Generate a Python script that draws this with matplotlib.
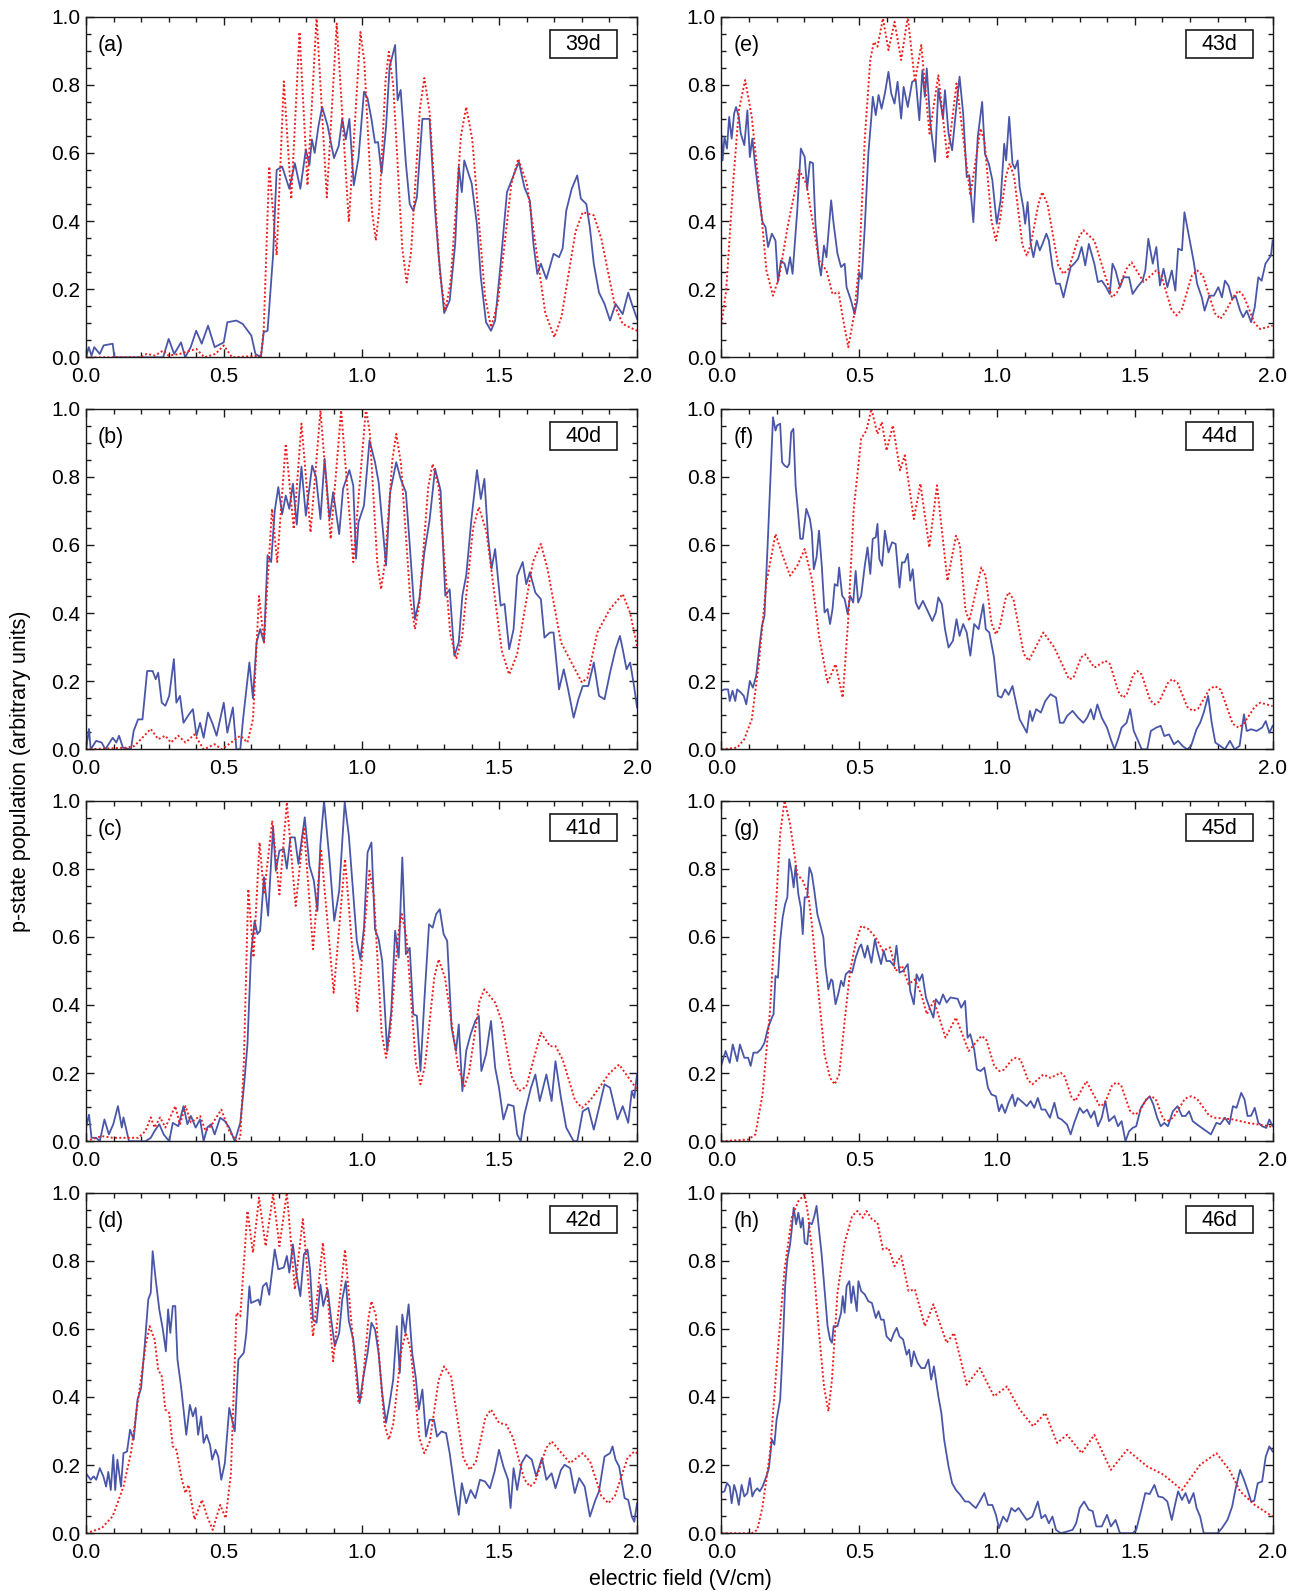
import matplotlib
matplotlib.use("Agg")
import matplotlib.pyplot as plt
from matplotlib.patches import Rectangle
from matplotlib.ticker import MultipleLocator, FormatStrFormatter
import numpy as np


COLORS = {
    "blue": "#4a57a8",
    "red": "#f01c1c",
    "ink": "#1a1a1a",
}

A_BLUE = [(0.0, 0.0), (0.01, 0.03), (0.02, 0.005), (0.03, 0.03), (0.05, 0.01), (0.064, 0.035), (0.097, 0.04), (0.103, 0.0),
          (0.28, 0.0), (0.30, 0.054), (0.32, 0.01), (0.345, 0.044), (0.36, 0.0), (0.38, 0.03), (0.40, 0.078), (0.42, 0.04),
          (0.443, 0.093), (0.467, 0.03), (0.50, 0.044), (0.513, 0.103), (0.546, 0.108), (0.569, 0.098), (0.60, 0.064),
          (0.615, 0.01), (0.635, 0.0), (0.645, 0.074), (0.659, 0.078), (0.679, 0.30), (0.692, 0.55), (0.712, 0.56),
          (0.738, 0.495), (0.758, 0.57), (0.778, 0.495), (0.798, 0.61), (0.811, 0.565), (0.82, 0.64), (0.83, 0.60),
          (0.844, 0.68), (0.857, 0.735), (0.877, 0.68), (0.90, 0.585), (0.917, 0.62), (0.93, 0.70), (0.943, 0.64),
          (0.956, 0.70), (0.972, 0.505), (0.989, 0.585), (1.009, 0.78), (1.022, 0.76), (1.036, 0.70), (1.049, 0.63),
          (1.06, 0.632), (1.073, 0.54), (1.089, 0.676), (1.102, 0.853), (1.122, 0.917), (1.131, 0.755), (1.142, 0.785),
          (1.161, 0.57), (1.175, 0.45), (1.188, 0.43), (1.201, 0.47), (1.221, 0.70), (1.247, 0.70), (1.267, 0.43),
          (1.28, 0.30), (1.30, 0.13), (1.32, 0.167), (1.34, 0.333), (1.353, 0.56), (1.364, 0.485), (1.373, 0.578),
          (1.40, 0.51), (1.419, 0.39), (1.433, 0.235), (1.452, 0.103), (1.47, 0.078), (1.485, 0.108), (1.505, 0.275),
          (1.528, 0.485), (1.545, 0.52), (1.571, 0.574), (1.591, 0.50), (1.611, 0.46), (1.624, 0.333), (1.638, 0.245),
          (1.651, 0.275), (1.671, 0.23), (1.697, 0.304), (1.717, 0.294), (1.73, 0.32), (1.743, 0.43), (1.763, 0.495),
          (1.783, 0.534), (1.796, 0.466), (1.816, 0.45), (1.829, 0.38), (1.843, 0.275), (1.862, 0.19), (1.882, 0.157),
          (1.902, 0.108), (1.922, 0.157), (1.948, 0.127), (1.968, 0.19), (1.981, 0.157), (2.0, 0.113)]
A_RED = [(0.0, 0.0), (0.2, 0.0), (0.22, 0.01), (0.25, 0.005), (0.28, 0.02), (0.30, 0.005), (0.34, 0.01), (0.40, 0.025),
         (0.43, 0.0), (0.47, 0.01), (0.50, 0.035), (0.53, 0.0), (0.635, 0.005), (0.645, 0.08), (0.665, 0.56),
         (0.692, 0.30), (0.718, 0.81), (0.745, 0.465), (0.775, 0.955), (0.804, 0.505), (0.837, 1.0), (0.874, 0.47),
         (0.910, 0.98), (0.954, 0.397), (0.996, 0.955), (1.01, 0.87), (1.038, 0.43), (1.052, 0.343), (1.064, 0.43),
         (1.087, 0.81), (1.099, 0.897), (1.115, 0.80), (1.148, 0.32), (1.164, 0.22), (1.18, 0.31), (1.212, 0.73),
         (1.228, 0.82), (1.247, 0.72), (1.285, 0.24), (1.304, 0.137), (1.323, 0.22), (1.361, 0.65), (1.38, 0.735),
         (1.402, 0.64), (1.448, 0.18), (1.47, 0.088), (1.495, 0.16), (1.544, 0.51), (1.569, 0.583), (1.60, 0.51),
         (1.667, 0.13), (1.70, 0.059), (1.726, 0.12), (1.777, 0.37), (1.803, 0.426), (1.843, 0.417), (1.87, 0.35),
         (1.92, 0.15), (1.948, 0.098), (2.0, 0.078)]

B_BLUE = [(0.0, 0.0), (0.011, 0.06), (0.017, 0.0), (0.037, 0.025), (0.057, 0.02), (0.07, 0.0), (0.097, 0.034), (0.11, 0.02),
          (0.12, 0.04), (0.134, 0.005), (0.163, 0.0), (0.173, 0.054), (0.189, 0.088), (0.205, 0.088), (0.222, 0.23),
          (0.242, 0.23), (0.253, 0.206), (0.262, 0.225), (0.275, 0.137), (0.288, 0.128), (0.302, 0.157), (0.319, 0.265),
          (0.328, 0.137), (0.341, 0.157), (0.354, 0.078), (0.374, 0.103), (0.388, 0.118), (0.401, 0.04), (0.414, 0.078),
          (0.427, 0.034), (0.443, 0.108), (0.46, 0.074), (0.474, 0.04), (0.50, 0.137), (0.513, 0.049), (0.533, 0.123),
          (0.546, 0.0), (0.56, 0.0), (0.57, 0.088), (0.593, 0.255), (0.606, 0.15), (0.619, 0.314), (0.632, 0.353),
          (0.646, 0.314), (0.659, 0.57), (0.672, 0.55), (0.685, 0.70), (0.698, 0.77), (0.712, 0.69), (0.725, 0.745),
          (0.738, 0.706), (0.751, 0.78), (0.765, 0.66), (0.782, 0.83), (0.798, 0.686), (0.821, 0.833), (0.835, 0.80),
          (0.851, 0.676), (0.866, 0.853), (0.884, 0.676), (0.897, 0.755), (0.919, 0.632), (0.933, 0.765), (0.956, 0.82),
          (0.97, 0.775), (0.98, 0.56), (0.989, 0.667), (1.009, 0.716), (1.029, 0.907), (1.049, 0.843), (1.062, 0.785),
          (1.089, 0.54), (1.104, 0.755), (1.126, 0.843), (1.142, 0.794), (1.161, 0.755), (1.175, 0.60), (1.194, 0.382),
          (1.21, 0.441), (1.228, 0.578), (1.247, 0.672), (1.267, 0.824), (1.287, 0.76), (1.304, 0.451), (1.32, 0.47),
          (1.337, 0.275), (1.353, 0.314), (1.366, 0.451), (1.38, 0.51), (1.399, 0.676), (1.419, 0.82), (1.433, 0.735),
          (1.446, 0.794), (1.459, 0.627), (1.472, 0.53), (1.485, 0.588), (1.505, 0.422), (1.519, 0.427), (1.536, 0.294),
          (1.552, 0.353), (1.565, 0.51), (1.585, 0.55), (1.598, 0.485), (1.611, 0.52), (1.631, 0.46), (1.651, 0.441),
          (1.664, 0.328), (1.684, 0.343), (1.697, 0.343), (1.717, 0.176), (1.734, 0.235), (1.75, 0.176), (1.77, 0.093),
          (1.787, 0.147), (1.803, 0.186), (1.823, 0.186), (1.843, 0.255), (1.862, 0.157), (1.882, 0.147), (1.902, 0.225),
          (1.922, 0.294), (1.938, 0.333), (1.948, 0.294), (1.962, 0.235), (1.975, 0.255), (1.988, 0.192), (2.0, 0.123)]
B_RED = [(0.0, 0.0), (0.149, 0.005), (0.176, 0.01), (0.235, 0.06), (0.262, 0.03), (0.288, 0.04), (0.308, 0.02),
         (0.335, 0.04), (0.361, 0.02), (0.394, 0.044), (0.427, 0.0), (0.467, 0.015), (0.493, 0.0), (0.56, 0.04),
         (0.586, 0.02), (0.606, 0.088), (0.628, 0.45), (0.646, 0.314), (0.675, 0.706), (0.694, 0.55), (0.725, 0.897),
         (0.754, 0.647), (0.782, 0.956), (0.815, 0.637), (0.851, 0.995), (0.888, 0.618), (0.926, 0.995), (0.97, 0.55),
         (1.016, 1.0), (1.03, 0.93), (1.057, 0.55), (1.071, 0.47), (1.085, 0.55), (1.112, 0.85), (1.126, 0.926),
         (1.143, 0.84), (1.177, 0.44), (1.194, 0.353), (1.21, 0.43), (1.242, 0.77), (1.258, 0.838), (1.28, 0.77),
         (1.322, 0.34), (1.344, 0.265), (1.365, 0.33), (1.405, 0.65), (1.426, 0.711), (1.453, 0.64), (1.509, 0.29),
         (1.536, 0.22), (1.565, 0.28), (1.622, 0.55), (1.651, 0.603), (1.675, 0.53), (1.724, 0.314), (1.80, 0.196),
         (1.82, 0.21), (1.856, 0.343), (1.90, 0.41), (1.948, 0.456), (1.975, 0.40), (2.0, 0.304)]

C_BLUE = [(0.0, 0.04), (0.011, 0.078), (0.02, 0.01), (0.037, 0.01), (0.05, 0.0), (0.067, 0.064), (0.083, 0.02), (0.099, 0.05),
          (0.116, 0.103), (0.13, 0.04), (0.136, 0.07), (0.156, 0.0), (0.216, 0.0), (0.235, 0.01), (0.249, 0.03),
          (0.266, 0.05), (0.282, 0.02), (0.302, 0.0), (0.315, 0.054), (0.335, 0.044), (0.354, 0.103), (0.368, 0.05),
          (0.381, 0.074), (0.398, 0.04), (0.414, 0.064), (0.427, 0.0), (0.44, 0.04), (0.454, 0.05), (0.467, 0.02),
          (0.487, 0.069), (0.504, 0.059), (0.52, 0.04), (0.54, 0.0), (0.56, 0.054), (0.575, 0.176), (0.586, 0.284),
          (0.599, 0.55), (0.612, 0.647), (0.622, 0.608), (0.632, 0.618), (0.646, 0.775), (0.661, 0.662), (0.679, 0.922),
          (0.689, 0.794), (0.702, 0.853), (0.718, 0.858), (0.729, 0.80), (0.742, 0.892), (0.758, 0.892), (0.771, 0.814),
          (0.794, 0.951), (0.811, 0.809), (0.827, 0.765), (0.84, 0.676), (0.851, 0.873), (0.864, 1.0), (0.884, 0.824),
          (0.901, 0.647), (0.919, 0.735), (0.939, 0.995), (0.954, 0.897), (0.97, 0.725), (0.983, 0.588), (0.996, 0.534),
          (1.009, 0.627), (1.022, 0.848), (1.036, 0.877), (1.049, 0.622), (1.062, 0.593), (1.075, 0.53), (1.093, 0.265),
          (1.108, 0.382), (1.122, 0.618), (1.135, 0.539), (1.148, 0.833), (1.161, 0.549), (1.175, 0.568), (1.188, 0.373),
          (1.201, 0.368), (1.214, 0.206), (1.228, 0.412), (1.245, 0.637), (1.258, 0.627), (1.271, 0.667), (1.284, 0.681),
          (1.298, 0.608), (1.311, 0.588), (1.327, 0.333), (1.343, 0.265), (1.353, 0.343), (1.366, 0.147), (1.38, 0.265),
          (1.396, 0.314), (1.413, 0.353), (1.426, 0.368), (1.435, 0.206), (1.452, 0.255), (1.47, 0.353), (1.485, 0.216),
          (1.499, 0.157), (1.515, 0.064), (1.532, 0.108), (1.552, 0.103), (1.565, 0.02), (1.578, 0.0), (1.591, 0.078),
          (1.615, 0.157), (1.631, 0.196), (1.647, 0.118), (1.671, 0.196), (1.69, 0.118), (1.704, 0.235), (1.724, 0.127),
          (1.743, 0.04), (1.77, 0.0), (1.783, 0.0), (1.803, 0.088), (1.823, 0.098), (1.843, 0.034), (1.862, 0.098),
          (1.882, 0.167), (1.902, 0.157), (1.929, 0.064), (1.948, 0.103), (1.968, 0.054), (1.981, 0.147), (1.99, 0.127),
          (2.0, 0.196)]
C_RED = [(0.0, 0.0), (0.057, 0.015), (0.097, 0.01), (0.189, 0.01), (0.216, 0.03), (0.235, 0.07), (0.249, 0.04),
         (0.269, 0.07), (0.288, 0.04), (0.324, 0.103), (0.341, 0.05), (0.361, 0.103), (0.381, 0.055), (0.414, 0.074),
         (0.434, 0.03), (0.454, 0.045), (0.491, 0.093), (0.52, 0.03), (0.546, 0.0), (0.56, 0.01), (0.573, 0.235),
         (0.589, 0.74), (0.608, 0.54), (0.63, 0.877), (0.646, 0.725), (0.676, 0.941), (0.702, 0.725), (0.729, 0.995),
         (0.761, 0.691), (0.791, 0.922), (0.824, 0.564), (0.853, 0.858), (0.899, 0.436), (0.94, 0.828), (0.985, 0.382),
         (1.029, 0.794), (1.045, 0.72), (1.073, 0.32), (1.089, 0.245), (1.103, 0.31), (1.132, 0.60), (1.146, 0.667),
         (1.163, 0.60), (1.197, 0.23), (1.214, 0.167), (1.23, 0.22), (1.264, 0.48), (1.28, 0.534), (1.303, 0.48),
         (1.35, 0.22), (1.373, 0.162), (1.39, 0.20), (1.428, 0.41), (1.446, 0.446), (1.485, 0.407), (1.51, 0.35),
         (1.545, 0.19), (1.571, 0.147), (1.598, 0.16), (1.651, 0.319), (1.684, 0.279), (1.704, 0.279), (1.73, 0.24),
         (1.775, 0.12), (1.80, 0.098), (1.83, 0.12), (1.90, 0.20), (1.935, 0.225), (2.0, 0.152)]

D_BLUE = [(0.0, 0.176), (0.017, 0.157), (0.028, 0.167), (0.037, 0.157), (0.05, 0.191), (0.063, 0.167), (0.073, 0.137),
          (0.081, 0.18), (0.09, 0.127), (0.099, 0.23), (0.106, 0.127), (0.114, 0.216), (0.127, 0.137), (0.136, 0.235),
          (0.149, 0.24), (0.16, 0.304), (0.173, 0.275), (0.187, 0.392), (0.20, 0.426), (0.213, 0.55), (0.226, 0.686),
          (0.235, 0.706), (0.242, 0.828), (0.253, 0.745), (0.266, 0.657), (0.279, 0.598), (0.29, 0.534), (0.298, 0.657),
          (0.306, 0.588), (0.315, 0.667), (0.324, 0.667), (0.332, 0.51), (0.345, 0.431), (0.364, 0.289), (0.377, 0.377),
          (0.388, 0.343), (0.398, 0.368), (0.407, 0.289), (0.418, 0.343), (0.427, 0.265), (0.438, 0.289), (0.45, 0.26),
          (0.458, 0.216), (0.47, 0.245), (0.48, 0.225), (0.491, 0.157), (0.504, 0.206), (0.52, 0.368), (0.54, 0.299),
          (0.553, 0.51), (0.573, 0.53), (0.582, 0.588), (0.593, 0.725), (0.599, 0.676), (0.626, 0.686), (0.632, 0.67),
          (0.642, 0.725), (0.655, 0.735), (0.665, 0.70), (0.685, 0.833), (0.698, 0.775), (0.718, 0.78), (0.729, 0.814),
          (0.738, 0.765), (0.751, 0.848), (0.765, 0.755), (0.778, 0.696), (0.791, 0.819), (0.804, 0.833), (0.813, 0.775),
          (0.824, 0.627), (0.837, 0.618), (0.851, 0.73), (0.861, 0.667), (0.877, 0.716), (0.89, 0.627), (0.903, 0.549),
          (0.919, 0.588), (0.93, 0.686), (0.943, 0.74), (0.954, 0.623), (0.97, 0.569), (0.983, 0.471), (0.993, 0.382),
          (1.007, 0.461), (1.022, 0.529), (1.036, 0.618), (1.049, 0.598), (1.062, 0.529), (1.075, 0.412), (1.089, 0.324),
          (1.102, 0.382), (1.115, 0.451), (1.128, 0.608), (1.139, 0.471), (1.148, 0.642), (1.159, 0.588), (1.171, 0.672),
          (1.184, 0.529), (1.197, 0.456), (1.208, 0.363), (1.221, 0.422), (1.234, 0.284), (1.247, 0.333), (1.263, 0.333),
          (1.274, 0.284), (1.29, 0.299), (1.307, 0.294), (1.32, 0.235), (1.34, 0.118), (1.353, 0.054), (1.364, 0.147),
          (1.38, 0.088), (1.396, 0.127), (1.413, 0.103), (1.43, 0.157), (1.448, 0.152), (1.466, 0.132), (1.483, 0.181),
          (1.499, 0.245), (1.515, 0.196), (1.532, 0.157), (1.541, 0.074), (1.552, 0.191), (1.565, 0.127), (1.581, 0.206),
          (1.598, 0.23), (1.618, 0.216), (1.634, 0.167), (1.655, 0.221), (1.671, 0.157), (1.69, 0.176), (1.704, 0.132),
          (1.724, 0.186), (1.737, 0.201), (1.757, 0.191), (1.774, 0.118), (1.79, 0.162), (1.81, 0.137), (1.829, 0.049),
          (1.849, 0.098), (1.862, 0.123), (1.882, 0.225), (1.902, 0.235), (1.911, 0.255), (1.922, 0.216), (1.935, 0.196),
          (1.955, 0.103), (1.968, 0.098), (1.981, 0.049), (1.99, 0.034), (2.0, 0.088)]
D_RED = [(0.0, 0.0), (0.057, 0.015), (0.097, 0.05), (0.136, 0.137), (0.163, 0.235), (0.189, 0.392), (0.216, 0.549),
         (0.231, 0.608), (0.249, 0.569), (0.262, 0.48), (0.275, 0.461), (0.288, 0.363), (0.302, 0.353), (0.315, 0.255),
         (0.328, 0.245), (0.348, 0.157), (0.361, 0.118), (0.372, 0.142), (0.394, 0.04), (0.421, 0.098), (0.44, 0.049),
         (0.46, 0.01), (0.487, 0.083), (0.507, 0.044), (0.526, 0.176), (0.546, 0.647), (0.56, 0.637), (0.586, 0.946),
         (0.606, 0.824), (0.628, 0.985), (0.652, 0.843), (0.679, 0.995), (0.702, 0.843), (0.729, 1.0), (0.758, 0.716),
         (0.787, 0.922), (0.824, 0.578), (0.86, 0.853), (0.897, 0.505), (0.94, 0.833), (0.989, 0.382), (1.0, 0.40),
         (1.025, 0.63), (1.036, 0.681), (1.052, 0.64), (1.083, 0.32), (1.099, 0.275), (1.115, 0.32), (1.145, 0.54),
         (1.161, 0.588), (1.178, 0.54), (1.21, 0.28), (1.228, 0.235), (1.248, 0.27), (1.28, 0.45), (1.30, 0.49),
         (1.325, 0.46), (1.37, 0.22), (1.393, 0.186), (1.415, 0.21), (1.45, 0.34), (1.47, 0.363), (1.499, 0.324),
         (1.525, 0.319), (1.55, 0.28), (1.59, 0.16), (1.611, 0.137), (1.63, 0.15), (1.67, 0.25), (1.69, 0.27),
         (1.757, 0.206), (1.803, 0.235), (1.83, 0.21), (1.87, 0.11), (1.896, 0.088), (1.92, 0.11), (1.965, 0.22),
         (1.99, 0.24), (2.0, 0.235)]

E_BLUE = [(0.0, 0.652), (0.004, 0.578), (0.011, 0.647), (0.02, 0.613), (0.028, 0.706), (0.037, 0.642), (0.046, 0.716),
          (0.053, 0.735), (0.063, 0.706), (0.07, 0.657), (0.083, 0.623), (0.094, 0.725), (0.103, 0.588), (0.112, 0.642),
          (0.123, 0.559), (0.136, 0.471), (0.149, 0.397), (0.16, 0.382), (0.169, 0.324), (0.183, 0.363), (0.196, 0.343),
          (0.205, 0.221), (0.216, 0.284), (0.229, 0.275), (0.238, 0.245), (0.249, 0.294), (0.258, 0.245), (0.275, 0.431),
          (0.288, 0.613), (0.302, 0.588), (0.311, 0.495), (0.321, 0.574), (0.332, 0.57), (0.341, 0.392), (0.354, 0.275),
          (0.361, 0.24), (0.372, 0.328), (0.381, 0.294), (0.398, 0.461), (0.407, 0.392), (0.421, 0.304), (0.434, 0.265),
          (0.447, 0.275), (0.454, 0.206), (0.47, 0.167), (0.483, 0.127), (0.493, 0.167), (0.50, 0.25), (0.509, 0.23),
          (0.52, 0.382), (0.533, 0.598), (0.544, 0.706), (0.549, 0.765), (0.56, 0.711), (0.57, 0.77), (0.581, 0.73),
          (0.593, 0.775), (0.606, 0.838), (0.616, 0.775), (0.628, 0.745), (0.639, 0.809), (0.652, 0.701), (0.661, 0.794),
          (0.676, 0.735), (0.692, 0.809), (0.705, 0.814), (0.718, 0.696), (0.729, 0.843), (0.738, 0.765), (0.745, 0.848),
          (0.758, 0.686), (0.775, 0.574), (0.787, 0.789), (0.804, 0.701), (0.811, 0.784), (0.824, 0.657), (0.837, 0.608),
          (0.851, 0.725), (0.864, 0.824), (0.877, 0.716), (0.89, 0.529), (0.899, 0.535), (0.914, 0.397), (0.93, 0.647),
          (0.946, 0.75), (0.956, 0.598), (0.97, 0.569), (0.983, 0.52), (0.999, 0.392), (1.013, 0.461), (1.026, 0.627),
          (1.033, 0.578), (1.044, 0.706), (1.056, 0.569), (1.065, 0.554), (1.075, 0.578), (1.082, 0.50), (1.095, 0.441),
          (1.102, 0.392), (1.111, 0.456), (1.122, 0.333), (1.132, 0.294), (1.144, 0.343), (1.155, 0.314), (1.165, 0.333),
          (1.179, 0.363), (1.188, 0.343), (1.201, 0.265), (1.214, 0.216), (1.228, 0.216), (1.241, 0.176), (1.251, 0.211),
          (1.267, 0.265), (1.28, 0.275), (1.294, 0.289), (1.307, 0.324), (1.32, 0.27), (1.333, 0.333), (1.353, 0.275),
          (1.366, 0.221), (1.38, 0.225), (1.396, 0.206), (1.409, 0.186), (1.419, 0.275), (1.43, 0.255), (1.446, 0.206),
          (1.459, 0.235), (1.479, 0.235), (1.492, 0.186), (1.509, 0.206), (1.528, 0.225), (1.538, 0.255), (1.549, 0.348),
          (1.565, 0.275), (1.578, 0.324), (1.591, 0.211), (1.604, 0.26), (1.618, 0.206), (1.634, 0.255), (1.647, 0.196),
          (1.657, 0.319), (1.671, 0.314), (1.68, 0.426), (1.697, 0.353), (1.713, 0.284), (1.726, 0.216), (1.743, 0.176),
          (1.753, 0.137), (1.77, 0.181), (1.787, 0.181), (1.803, 0.206), (1.816, 0.176), (1.827, 0.225), (1.84, 0.21),
          (1.853, 0.172), (1.866, 0.18), (1.882, 0.137), (1.893, 0.118), (1.906, 0.137), (1.922, 0.103), (1.935, 0.147),
          (1.948, 0.235), (1.96, 0.225), (1.974, 0.275), (1.994, 0.299), (2.0, 0.343)]
E_RED = [(0.0, 0.098), (0.017, 0.196), (0.044, 0.529), (0.063, 0.725), (0.086, 0.814), (0.11, 0.706), (0.136, 0.50),
         (0.163, 0.255), (0.187, 0.181), (0.209, 0.235), (0.242, 0.392), (0.282, 0.549), (0.308, 0.51), (0.328, 0.412),
         (0.354, 0.284), (0.381, 0.255), (0.403, 0.186), (0.425, 0.191), (0.44, 0.118), (0.46, 0.03), (0.48, 0.118),
         (0.50, 0.275), (0.52, 0.642), (0.54, 0.873), (0.553, 0.926), (0.566, 0.912), (0.586, 0.995), (0.606, 0.902),
         (0.628, 0.985), (0.652, 0.873), (0.676, 1.0), (0.702, 0.809), (0.725, 0.917), (0.755, 0.657), (0.787, 0.828),
         (0.82, 0.583), (0.853, 0.804), (0.903, 0.475), (0.94, 0.672), (0.955, 0.63), (0.98, 0.40), (0.996, 0.343),
         (1.01, 0.40), (1.032, 0.53), (1.046, 0.569), (1.062, 0.53), (1.092, 0.33), (1.108, 0.299), (1.122, 0.33),
         (1.15, 0.45), (1.164, 0.485), (1.183, 0.45), (1.222, 0.27), (1.241, 0.245), (1.26, 0.26), (1.295, 0.35),
         (1.313, 0.373), (1.353, 0.343), (1.417, 0.176), (1.435, 0.19), (1.47, 0.26), (1.488, 0.279), (1.532, 0.221),
         (1.578, 0.255), (1.596, 0.24), (1.633, 0.14), (1.651, 0.123), (1.67, 0.14), (1.707, 0.24), (1.726, 0.255),
         (1.747, 0.24), (1.79, 0.13), (1.81, 0.113), (1.826, 0.13), (1.86, 0.18), (1.876, 0.196), (1.895, 0.18),
         (1.935, 0.10), (1.955, 0.083), (2.0, 0.093)]

F_BLUE = [(0.0, 0.172), (0.011, 0.176), (0.024, 0.176), (0.03, 0.142), (0.04, 0.172), (0.05, 0.142), (0.057, 0.176),
          (0.07, 0.167), (0.081, 0.157), (0.09, 0.132), (0.103, 0.201), (0.114, 0.181), (0.126, 0.216), (0.136, 0.289),
          (0.147, 0.363), (0.156, 0.392), (0.169, 0.627), (0.179, 0.824), (0.187, 0.975), (0.196, 0.936), (0.202, 0.951),
          (0.213, 0.956), (0.22, 0.843), (0.229, 0.833), (0.239, 0.828), (0.246, 0.838), (0.253, 0.931), (0.261, 0.941),
          (0.269, 0.775), (0.278, 0.696), (0.286, 0.618), (0.295, 0.618), (0.308, 0.706), (0.321, 0.676), (0.328, 0.637),
          (0.335, 0.529), (0.345, 0.564), (0.354, 0.642), (0.364, 0.539), (0.374, 0.402), (0.385, 0.412), (0.394, 0.368),
          (0.403, 0.412), (0.411, 0.485), (0.421, 0.48), (0.427, 0.534), (0.438, 0.451), (0.447, 0.441), (0.458, 0.397),
          (0.467, 0.451), (0.478, 0.431), (0.487, 0.524), (0.496, 0.431), (0.507, 0.451), (0.52, 0.539), (0.53, 0.593),
          (0.54, 0.515), (0.549, 0.618), (0.56, 0.623), (0.566, 0.662), (0.573, 0.559), (0.583, 0.539), (0.593, 0.642),
          (0.606, 0.578), (0.619, 0.608), (0.632, 0.603), (0.646, 0.475), (0.655, 0.549), (0.665, 0.549), (0.676, 0.574),
          (0.685, 0.495), (0.694, 0.529), (0.705, 0.431), (0.716, 0.412), (0.731, 0.436), (0.745, 0.412), (0.765, 0.377),
          (0.778, 0.402), (0.787, 0.446), (0.80, 0.426), (0.811, 0.353), (0.824, 0.299), (0.84, 0.319), (0.853, 0.382),
          (0.864, 0.333), (0.877, 0.368), (0.89, 0.343), (0.903, 0.275), (0.917, 0.368), (0.933, 0.353), (0.95, 0.426),
          (0.959, 0.353), (0.972, 0.343), (0.989, 0.27), (1.003, 0.157), (1.016, 0.152), (1.029, 0.176), (1.042, 0.16),
          (1.056, 0.186), (1.069, 0.137), (1.082, 0.088), (1.095, 0.069), (1.108, 0.049), (1.119, 0.113), (1.128, 0.083),
          (1.142, 0.118), (1.159, 0.108), (1.175, 0.142), (1.194, 0.162), (1.214, 0.152), (1.228, 0.078), (1.241, 0.078),
          (1.254, 0.098), (1.274, 0.113), (1.294, 0.093), (1.313, 0.078), (1.327, 0.093), (1.34, 0.118), (1.351, 0.088),
          (1.364, 0.132), (1.38, 0.093), (1.399, 0.064), (1.413, 0.029), (1.426, 0.0), (1.439, 0.029), (1.452, 0.064),
          (1.47, 0.078), (1.483, 0.118), (1.496, 0.054), (1.512, 0.025), (1.525, 0.0), (1.545, 0.0), (1.558, 0.054),
          (1.578, 0.064), (1.594, 0.069), (1.607, 0.039), (1.624, 0.044), (1.642, 0.015), (1.657, 0.025), (1.673, 0.01),
          (1.69, 0.0), (1.704, 0.01), (1.724, 0.059), (1.737, 0.078), (1.75, 0.108), (1.766, 0.157), (1.779, 0.078),
          (1.792, 0.02), (1.81, 0.01), (1.827, 0.0), (1.845, 0.025), (1.862, 0.0), (1.88, 0.01), (1.896, 0.103),
          (1.906, 0.054), (1.922, 0.059), (1.942, 0.054), (1.962, 0.064), (1.975, 0.083), (1.988, 0.049), (2.0, 0.069)]
F_RED = [(0.0, 0.0), (0.057, 0.005), (0.083, 0.03), (0.11, 0.088), (0.136, 0.255), (0.163, 0.49), (0.196, 0.632),
         (0.222, 0.569), (0.249, 0.51), (0.275, 0.539), (0.302, 0.588), (0.328, 0.50), (0.354, 0.333), (0.385, 0.196),
         (0.414, 0.25), (0.44, 0.152), (0.46, 0.382), (0.48, 0.706), (0.507, 0.912), (0.526, 0.936), (0.544, 1.0),
         (0.566, 0.926), (0.582, 0.961), (0.599, 0.877), (0.622, 0.951), (0.648, 0.819), (0.665, 0.863), (0.698, 0.676),
         (0.722, 0.78), (0.754, 0.593), (0.782, 0.775), (0.82, 0.495), (0.851, 0.627), (0.865, 0.60), (0.885, 0.41),
         (0.899, 0.377), (0.943, 0.534), (0.958, 0.51), (0.98, 0.37), (0.996, 0.338), (1.01, 0.36), (1.03, 0.44),
         (1.042, 0.461), (1.06, 0.44), (1.097, 0.28), (1.115, 0.26), (1.168, 0.343), (1.208, 0.299), (1.261, 0.206),
         (1.277, 0.21), (1.305, 0.27), (1.32, 0.279), (1.353, 0.24), (1.393, 0.26), (1.41, 0.25), (1.44, 0.17),
         (1.456, 0.152), (1.47, 0.16), (1.495, 0.22), (1.509, 0.23), (1.525, 0.22), (1.555, 0.145), (1.571, 0.132),
         (1.588, 0.14), (1.62, 0.195), (1.635, 0.206), (1.655, 0.195), (1.69, 0.125), (1.71, 0.113), (1.73, 0.12),
         (1.77, 0.175), (1.79, 0.186), (1.812, 0.175), (1.855, 0.075), (1.876, 0.064), (1.895, 0.075), (1.935, 0.125),
         (1.955, 0.137), (2.0, 0.127)]

G_BLUE = [(0.0, 0.225), (0.015, 0.265), (0.03, 0.23), (0.041, 0.284), (0.057, 0.235), (0.067, 0.284), (0.083, 0.245),
          (0.097, 0.245), (0.106, 0.221), (0.116, 0.26), (0.13, 0.26), (0.143, 0.27), (0.156, 0.289), (0.169, 0.333),
          (0.183, 0.363), (0.189, 0.373), (0.196, 0.485), (0.205, 0.48), (0.213, 0.588), (0.222, 0.657), (0.231, 0.696),
          (0.239, 0.716), (0.246, 0.828), (0.255, 0.789), (0.262, 0.745), (0.269, 0.809), (0.279, 0.725), (0.288, 0.686),
          (0.295, 0.608), (0.302, 0.716), (0.311, 0.716), (0.319, 0.804), (0.328, 0.784), (0.337, 0.735), (0.348, 0.667),
          (0.361, 0.627), (0.37, 0.598), (0.377, 0.515), (0.388, 0.446), (0.398, 0.475), (0.403, 0.471), (0.414, 0.402),
          (0.425, 0.436), (0.434, 0.471), (0.443, 0.455), (0.451, 0.49), (0.464, 0.50), (0.474, 0.495), (0.487, 0.539),
          (0.50, 0.569), (0.507, 0.578), (0.52, 0.539), (0.53, 0.574), (0.544, 0.524), (0.557, 0.593), (0.566, 0.559),
          (0.579, 0.52), (0.589, 0.559), (0.599, 0.529), (0.612, 0.529), (0.626, 0.515), (0.635, 0.574), (0.646, 0.495),
          (0.659, 0.50), (0.676, 0.52), (0.685, 0.441), (0.698, 0.402), (0.708, 0.49), (0.718, 0.471), (0.729, 0.49),
          (0.742, 0.422), (0.755, 0.392), (0.769, 0.363), (0.778, 0.417), (0.791, 0.402), (0.804, 0.431), (0.817, 0.407),
          (0.831, 0.422), (0.844, 0.42), (0.857, 0.418), (0.87, 0.392), (0.884, 0.412), (0.893, 0.304), (0.903, 0.314),
          (0.917, 0.27), (0.927, 0.211), (0.94, 0.206), (0.954, 0.216), (0.967, 0.157), (0.98, 0.137), (0.996, 0.132),
          (1.007, 0.088), (1.017, 0.108), (1.029, 0.083), (1.042, 0.113), (1.056, 0.137), (1.065, 0.103), (1.075, 0.127),
          (1.095, 0.113), (1.108, 0.103), (1.122, 0.118), (1.135, 0.098), (1.148, 0.127), (1.161, 0.093), (1.175, 0.093),
          (1.192, 0.069), (1.208, 0.113), (1.221, 0.069), (1.234, 0.064), (1.254, 0.049), (1.267, 0.02), (1.28, 0.054),
          (1.30, 0.098), (1.313, 0.083), (1.327, 0.093), (1.34, 0.069), (1.353, 0.088), (1.366, 0.044), (1.38, 0.069),
          (1.393, 0.118), (1.406, 0.059), (1.426, 0.074), (1.439, 0.044), (1.452, 0.059), (1.466, 0.0), (1.479, 0.029),
          (1.492, 0.039), (1.505, 0.044), (1.522, 0.098), (1.538, 0.118), (1.554, 0.132), (1.567, 0.108), (1.581, 0.069),
          (1.594, 0.044), (1.607, 0.054), (1.62, 0.044), (1.638, 0.088), (1.655, 0.103), (1.671, 0.074), (1.684, 0.074),
          (1.697, 0.088), (1.71, 0.059), (1.726, 0.049), (1.743, 0.039), (1.761, 0.029), (1.776, 0.02), (1.796, 0.054),
          (1.81, 0.05), (1.827, 0.069), (1.843, 0.05), (1.856, 0.103), (1.869, 0.098), (1.886, 0.142), (1.898, 0.123),
          (1.909, 0.074), (1.922, 0.075), (1.935, 0.098), (1.948, 0.054), (1.962, 0.044), (1.977, 0.039), (1.988, 0.064),
          (2.0, 0.044)]
G_RED = [(0.0, 0.0), (0.097, 0.005), (0.123, 0.02), (0.149, 0.137), (0.176, 0.382), (0.196, 0.667), (0.213, 0.902),
         (0.229, 1.0), (0.249, 0.931), (0.275, 0.784), (0.295, 0.765), (0.315, 0.725), (0.328, 0.637), (0.354, 0.422),
         (0.374, 0.255), (0.394, 0.186), (0.411, 0.167), (0.427, 0.196), (0.447, 0.353), (0.467, 0.50), (0.487, 0.583),
         (0.507, 0.632), (0.533, 0.623), (0.56, 0.598), (0.586, 0.559), (0.612, 0.569), (0.632, 0.50), (0.655, 0.515),
         (0.679, 0.461), (0.702, 0.475), (0.725, 0.431), (0.745, 0.373), (0.771, 0.412), (0.813, 0.304), (0.851, 0.363),
         (0.897, 0.265), (0.943, 0.309), (0.96, 0.30), (0.99, 0.22), (1.009, 0.206), (1.025, 0.21), (1.055, 0.24),
         (1.069, 0.245), (1.085, 0.24), (1.112, 0.18), (1.128, 0.167), (1.168, 0.196), (1.194, 0.186), (1.231, 0.201),
         (1.245, 0.19), (1.27, 0.13), (1.284, 0.118), (1.324, 0.176), (1.373, 0.103), (1.39, 0.11), (1.418, 0.165),
         (1.433, 0.172), (1.45, 0.165), (1.482, 0.09), (1.499, 0.078), (1.515, 0.085), (1.543, 0.125), (1.558, 0.132),
         (1.575, 0.125), (1.603, 0.065), (1.618, 0.059), (1.64, 0.07), (1.682, 0.125), (1.704, 0.132), (1.725, 0.125),
         (1.77, 0.075), (1.79, 0.069), (1.856, 0.064), (1.909, 0.054), (1.988, 0.044), (2.0, 0.04)]

H_BLUE = [(0.0, 0.12), (0.011, 0.123), (0.02, 0.147), (0.03, 0.137), (0.037, 0.088), (0.046, 0.142), (0.054, 0.12),
          (0.063, 0.083), (0.073, 0.142), (0.083, 0.108), (0.094, 0.118), (0.103, 0.162), (0.112, 0.108), (0.12, 0.123),
          (0.13, 0.132), (0.139, 0.123), (0.149, 0.137), (0.163, 0.167), (0.172, 0.191), (0.183, 0.275), (0.192, 0.26),
          (0.20, 0.333), (0.213, 0.392), (0.222, 0.539), (0.231, 0.725), (0.239, 0.804), (0.249, 0.848), (0.255, 0.892),
          (0.262, 0.956), (0.271, 0.907), (0.279, 0.941), (0.288, 0.897), (0.295, 0.926), (0.302, 0.853), (0.311, 0.848),
          (0.319, 0.912), (0.328, 0.907), (0.337, 0.931), (0.345, 0.961), (0.354, 0.892), (0.364, 0.814), (0.374, 0.716),
          (0.385, 0.608), (0.394, 0.569), (0.401, 0.559), (0.407, 0.608), (0.421, 0.608), (0.434, 0.647), (0.44, 0.696),
          (0.447, 0.647), (0.454, 0.725), (0.464, 0.74), (0.471, 0.676), (0.478, 0.725), (0.491, 0.652), (0.497, 0.74),
          (0.507, 0.711), (0.52, 0.701), (0.533, 0.681), (0.546, 0.676), (0.56, 0.632), (0.57, 0.652), (0.579, 0.627),
          (0.589, 0.627), (0.599, 0.578), (0.615, 0.564), (0.626, 0.588), (0.636, 0.603), (0.646, 0.578), (0.659, 0.569),
          (0.672, 0.524), (0.681, 0.539), (0.689, 0.49), (0.698, 0.534), (0.712, 0.50), (0.725, 0.485), (0.738, 0.485),
          (0.751, 0.51), (0.761, 0.451), (0.771, 0.49), (0.787, 0.402), (0.798, 0.353), (0.808, 0.275), (0.824, 0.196),
          (0.837, 0.147), (0.851, 0.127), (0.866, 0.113), (0.884, 0.093), (0.897, 0.093), (0.91, 0.083), (0.923, 0.074),
          (0.937, 0.093), (0.954, 0.118), (0.967, 0.083), (0.983, 0.083), (0.996, 0.054), (1.007, 0.015), (1.022, 0.049),
          (1.036, 0.034), (1.052, 0.074), (1.065, 0.064), (1.078, 0.074), (1.095, 0.054), (1.108, 0.039), (1.128, 0.049),
          (1.148, 0.093), (1.161, 0.044), (1.175, 0.054), (1.188, 0.029), (1.201, 0.049), (1.214, 0.01), (1.231, 0.0),
          (1.254, 0.005), (1.274, 0.01), (1.287, 0.029), (1.30, 0.074), (1.316, 0.093), (1.333, 0.069), (1.347, 0.065),
          (1.36, 0.02), (1.38, 0.02), (1.399, 0.054), (1.413, 0.02), (1.43, 0.039), (1.446, 0.0), (1.492, 0.0),
          (1.505, 0.01), (1.522, 0.064), (1.538, 0.118), (1.554, 0.115), (1.571, 0.142), (1.585, 0.108), (1.602, 0.105),
          (1.618, 0.093), (1.634, 0.039), (1.647, 0.088), (1.657, 0.123), (1.671, 0.098), (1.684, 0.118), (1.697, 0.088),
          (1.713, 0.118), (1.724, 0.074), (1.737, 0.049), (1.75, 0.0), (1.80, 0.0), (1.816, 0.015), (1.836, 0.039),
          (1.853, 0.078), (1.866, 0.132), (1.882, 0.186), (1.896, 0.157), (1.909, 0.127), (1.922, 0.093), (1.933, 0.095),
          (1.946, 0.147), (1.962, 0.152), (1.975, 0.225), (1.988, 0.255), (2.0, 0.24)]
H_RED = [(0.0, 0.0), (0.11, 0.0), (0.13, 0.01), (0.149, 0.078), (0.176, 0.235), (0.202, 0.51), (0.229, 0.775),
         (0.255, 0.926), (0.279, 0.975), (0.302, 0.995), (0.315, 0.931), (0.335, 0.775), (0.354, 0.588), (0.372, 0.431),
         (0.388, 0.358), (0.401, 0.451), (0.421, 0.706), (0.447, 0.853), (0.474, 0.931), (0.493, 0.946), (0.513, 0.926),
         (0.526, 0.946), (0.546, 0.922), (0.566, 0.912), (0.586, 0.833), (0.606, 0.838), (0.628, 0.784), (0.652, 0.814),
         (0.679, 0.711), (0.702, 0.716), (0.738, 0.608), (0.769, 0.672), (0.817, 0.559), (0.844, 0.588), (0.89, 0.436),
         (0.937, 0.485), (0.989, 0.402), (1.036, 0.431), (1.082, 0.363), (1.131, 0.314), (1.175, 0.353), (1.218, 0.265),
         (1.254, 0.289), (1.307, 0.235), (1.353, 0.289), (1.413, 0.186), (1.472, 0.245), (1.545, 0.196), (1.604, 0.172),
         (1.671, 0.127), (1.737, 0.201), (1.796, 0.235), (1.843, 0.186), (1.882, 0.123), (1.935, 0.083), (2.0, 0.049)]

LEFT_TAGS = ["(a)", "(b)", "(c)", "(d)"]
LEFT_STATES = ["39d", "40d", "41d", "42d"]
RIGHT_TAGS = ["(e)", "(f)", "(g)", "(h)"]
RIGHT_STATES = ["43d", "44d", "45d", "46d"]
LEFT_CURVES = [(A_BLUE, A_RED), (B_BLUE, B_RED), (C_BLUE, C_RED), (D_BLUE, D_RED)]
RIGHT_CURVES = [(E_BLUE, E_RED), (F_BLUE, F_RED), (G_BLUE, G_RED), (H_BLUE, H_RED)]


def setup_style() -> None:
    plt.rcParams.update(
        {
            "font.family": ["Liberation Sans", "DejaVu Sans"],
            "font.size": 14,
            "axes.linewidth": 1.0,
            "axes.edgecolor": COLORS["ink"],
            "xtick.labelsize": 15,
            "ytick.labelsize": 15,
        }
    )


def style_axis(ax) -> None:
    ax.set_xlim(0, 2.0)
    ax.set_ylim(0, 1.0)
    ax.xaxis.set_major_locator(MultipleLocator(0.5))
    ax.xaxis.set_minor_locator(MultipleLocator(0.1))
    ax.yaxis.set_major_locator(MultipleLocator(0.2))
    ax.yaxis.set_minor_locator(MultipleLocator(0.05))
    ax.xaxis.set_major_formatter(FormatStrFormatter("%.1f"))
    ax.yaxis.set_major_formatter(FormatStrFormatter("%.1f"))
    ax.tick_params(which="both", direction="in", top=True, right=True, width=1.0, color=COLORS["ink"])
    ax.tick_params(which="major", length=6)
    ax.tick_params(which="minor", length=3.5)
    ax.tick_params(axis="x", pad=7)
    ax.tick_params(axis="y", pad=4)


def draw_panel(ax, tag: str, state: str, blue, red) -> None:
    bx, by = np.array(blue).T
    rx, ry = np.array(red).T
    ax.plot(bx, by, color=COLORS["blue"], lw=1.3)
    ax.plot(rx, ry, color=COLORS["red"], lw=1.4, linestyle=(0, (1, 1.2)))
    style_axis(ax)
    ax.text(0.022, 0.915, tag, transform=ax.transAxes, ha="left", va="center", fontsize=15.5)
    ax.add_patch(Rectangle((0.842, 0.880), 0.122, 0.082, transform=ax.transAxes,
                           fill=False, lw=1.2, edgecolor=COLORS["ink"]))
    ax.text(0.903, 0.919, state, transform=ax.transAxes, ha="center", va="center", fontsize=15.5)


def main() -> None:
    setup_style()
    fig = plt.figure(figsize=(12.99, 15.91), dpi=100)
    bottoms = [0.7754, 0.5290, 0.2827, 0.0363]
    height = 0.2141
    for row, b in enumerate(bottoms):
        ax_l = fig.add_axes([0.0662, b, 0.4242, height])
        draw_panel(ax_l, LEFT_TAGS[row], LEFT_STATES[row], *LEFT_CURVES[row])
        ax_r = fig.add_axes([0.5554, b, 0.4243, height])
        draw_panel(ax_r, RIGHT_TAGS[row], RIGHT_STATES[row], *RIGHT_CURVES[row])

    fig.text(0.0156, 0.5150, "p-state population (arbitrary units)", rotation=90,
             ha="center", va="center", fontsize=15.5)
    fig.text(0.5235, 0.0075, "electric field (V/cm)", ha="center", va="center", fontsize=15.5)
    fig.savefig("out.png", dpi=100)
    plt.close(fig)


if __name__ == "__main__":
    main()
